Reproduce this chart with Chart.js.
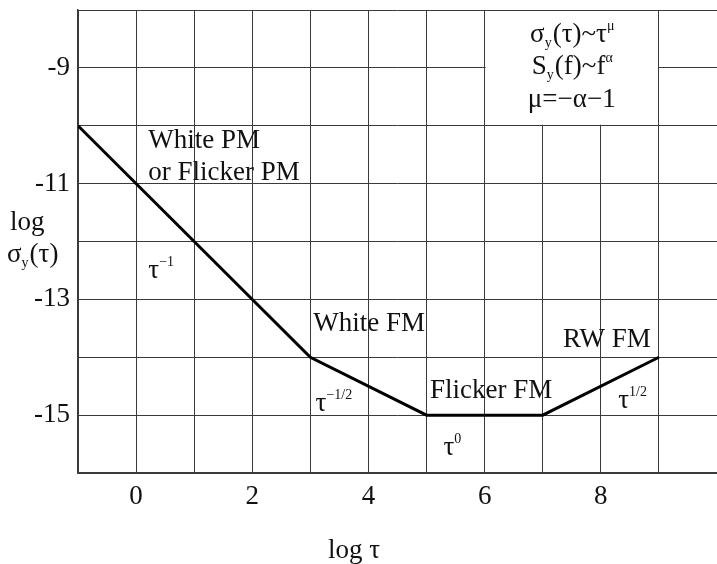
<!DOCTYPE html>
<html>
<head>
<meta charset="utf-8">
<script src="https://cdn.jsdelivr.net/npm/chart.js@4/dist/chart.umd.min.js"></script>
<style>
  html, body { margin: 0; padding: 0; background: #fff; }
  #wrap { width: 717px; height: 564px; }
</style>
</head>
<body>
<div id="wrap"><canvas id="noiseChart" width="717" height="564"></canvas></div>
<script>
/* ================= DATA ================= */
const logTau = [-1, 3, 5, 7, 9];
const logSigma = [-10, -14, -15, -15, -14];
const xTicks = [0, 2, 4, 6, 8];
const yTicks = [-9, -11, -13, -15];

// region labels: text segments ({t, sup}) and anchor in data coordinates
const noteTexts = [
  [{ t: "White PM" }],
  [{ t: "or Flicker PM" }],
  [{ t: "τ" }, { t: "−1", sup: true }],
  [{ t: "White FM" }],
  [{ t: "τ" }, { t: "−1/2", sup: true }],
  [{ t: "Flicker FM" }],
  [{ t: "τ" }, { t: "0", sup: true }],
  [{ t: "RW FM" }],
  [{ t: "τ" }, { t: "1/2", sup: true }]
];
const noteAt = [
  [0.21, -10.39], [0.21, -10.94], [0.21, -12.63],
  [3.05, -13.55], [3.09, -14.93], [5.06, -14.71],
  [5.29, -15.69], [7.35, -13.83], [8.30, -14.88]
];

// relation box text (centered)
const boxLines = [
  [{ t: "σ" }, { t: "y", sub: true }, { t: "(τ)~τ" }, { t: "μ", sup: true }],
  [{ t: "S" }, { t: "y", sub: true }, { t: "(f)~f" }, { t: "α", sup: true }],
  [{ t: "μ=−α−1" }]
];
const boxLineY = [-8.56, -9.10, -9.68];
const boxRange = { x0: 6, x1: 9, y0: -10, y1: -8 };

/* ================= STYLE ================= */
const FONT = "'Liberation Serif', 'Times New Roman', serif";
const SIZE = 27;
const GRID = "#3a3a3a";

/* ================= RICH TEXT ================= */
function segWidth(ctx, segs) {
  let w = 0;
  segs.forEach(s => {
    ctx.font = (s.sup || s.sub ? 14 : SIZE) + "px " + FONT;
    w += ctx.measureText(s.t).width;
  });
  return w;
}

function drawSegs(ctx, segs, x, y) {
  segs.forEach(s => {
    let dy = 0;
    if (s.sup) dy = -12;
    if (s.sub) dy = 5;
    ctx.font = (s.sup || s.sub ? 14 : SIZE) + "px " + FONT;
    ctx.fillText(s.t, x, y + dy);
    x += ctx.measureText(s.t).width + (s.sup || s.sub ? 1 : 0);
  });
}

function noPad(s) {
  s.paddingLeft = 0;
  s.paddingRight = 0;
  s.paddingTop = 0;
  s.paddingBottom = 0;
}

/* ================= OVERLAY PLUGIN ================= */
const overlay = {
  id: "overlay",
  beforeDatasetsDraw(chart) {
    const { ctx, scales: { x, y } } = chart;
    // white box over the grid, top right
    const bx0 = x.getPixelForValue(boxRange.x0);
    const bx1 = x.getPixelForValue(boxRange.x1);
    const by0 = y.getPixelForValue(boxRange.y1);
    const by1 = y.getPixelForValue(boxRange.y0);
    ctx.save();
    ctx.fillStyle = "#fff";
    ctx.fillRect(bx0 + 1, by0 + 1, bx1 - bx0 - 2, by1 - by0 - 2);
    ctx.restore();
  },
  afterDatasetsDraw(chart) {
    const { ctx, scales: { x, y } } = chart;
    ctx.save();
    ctx.fillStyle = "#111";
    ctx.textBaseline = "alphabetic";
    ctx.textAlign = "left";

    noteTexts.forEach((segs, i) => {
      drawSegs(ctx, segs, x.getPixelForValue(noteAt[i][0]), y.getPixelForValue(noteAt[i][1]));
    });

    const cx = x.getPixelForValue((boxRange.x0 + boxRange.x1) / 2);
    boxLines.forEach((segs, i) => {
      const w = segWidth(ctx, segs);
      drawSegs(ctx, segs, cx - w / 2, y.getPixelForValue(boxLineY[i]));
    });

    // axis titles
    drawSegs(ctx, [{ t: "log" }], 10, 230);
    drawSegs(ctx, [{ t: "σ" }, { t: "y", sub: true }, { t: "(τ)" }], 7, 262);
    drawSegs(ctx, [{ t: "log τ" }], 328, 558);
    ctx.restore();
  }
};

/* ================= CHART ================= */
const ctx = document.getElementById("noiseChart");

new Chart(ctx, {
  type: "line",
  data: {
    datasets: [{
      data: logTau.map((v, i) => ({ x: v, y: logSigma[i] })),
      borderColor: "#000",
      borderWidth: 3,
      pointRadius: 0,
      tension: 0,
      fill: false
    }]
  },
  options: {
    responsive: false,
    animation: false,
    layout: { padding: { top: 10, left: 0, right: 0, bottom: 0 } },
    plugins: { legend: { display: false }, tooltip: { enabled: false } },
    scales: {
      x: {
        type: "linear",
        min: -1,
        max: 10,
        afterFit: s => { s.height = 91; noPad(s); },
        afterBuildTicks: s => {
          s.ticks = [];
          for (let v = -1; v <= 10; v++) s.ticks.push({ value: v });
        },
        grid: { color: GRID, lineWidth: 1, drawTicks: false },
        border: { color: GRID, width: 1.5 },
        ticks: {
          color: "#111",
          padding: 8,
          font: { family: FONT, size: SIZE },
          callback: v => xTicks.includes(v) ? String(v) : ""
        }
      },
      y: {
        min: -16,
        max: -8,
        afterFit: s => { s.width = 78; noPad(s); },
        afterBuildTicks: s => {
          s.ticks = [];
          for (let v = -16; v <= -8; v++) s.ticks.push({ value: v });
        },
        grid: { color: GRID, lineWidth: 1, drawTicks: false },
        border: { color: GRID, width: 1.5 },
        ticks: {
          color: "#111",
          padding: 8,
          font: { family: FONT, size: SIZE },
          callback: v => yTicks.includes(v) ? "-" + Math.abs(v) : ""
        }
      }
    }
  },
  plugins: [overlay]
});
</script>
</body>
</html>
